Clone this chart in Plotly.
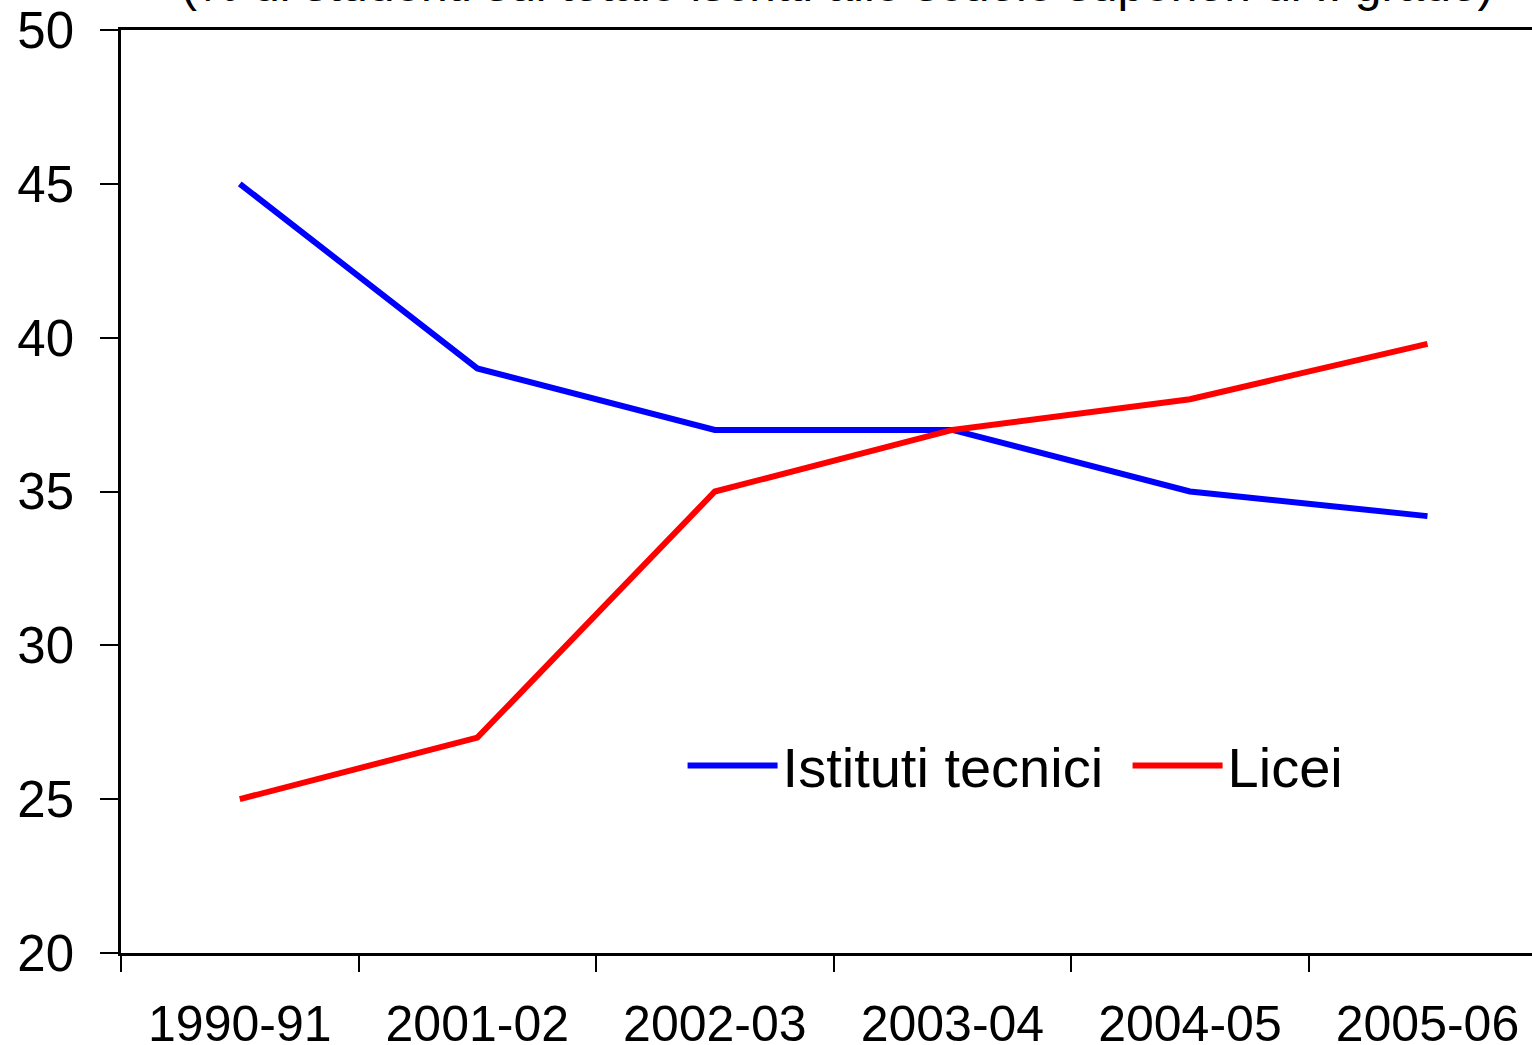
import plotly.graph_objects as go

categories = ["1990-91", "2001-02", "2002-03", "2003-04", "2004-05", "2005-06"]
istituti_tecnici = [45.0, 39.0, 37.0, 37.0, 35.0, 34.2]
licei = [25.0, 27.0, 35.0, 37.0, 38.0, 39.8]
y_ticks = [20, 25, 30, 35, 40, 45, 50]
title_text = "(% di studenti sul totale iscritti alle scuole superiori di II grado)"

FONT = "Liberation Sans, Arial, sans-serif"

fig = go.Figure()
fig.add_trace(go.Scatter(x=categories, y=istituti_tecnici, mode="lines",
                         name="Istituti tecnici",
                         line=dict(color="#0000FF", width=6)))
fig.add_trace(go.Scatter(x=categories, y=licei, mode="lines",
                         name="Licei",
                         line=dict(color="#FF0000", width=6)))

fig.update_layout(
    width=1532, height=1045,
    margin=dict(l=121, r=0, t=30, b=92, autoexpand=False),
    paper_bgcolor="white", plot_bgcolor="white",
    font=dict(family=FONT, color="black"),
    showlegend=True,
    legend=dict(orientation="h", x=0.398, y=0.203, xanchor="left", yanchor="middle",
                font=dict(size=56, family=FONT, color="black"),
                bgcolor="rgba(0,0,0,0)", itemwidth=90, tracegroupgap=0,
                entrywidth=340, entrywidthmode="pixels"),
    xaxis=dict(type="category", range=[-0.5, 5.44], tickson="boundaries",
               ticks="outside", ticklen=16, tickwidth=2, tickcolor="black",
               showline=True, linecolor="black", linewidth=3, mirror=True,
               showgrid=False, zeroline=False, automargin=False,
               tickfont=dict(size=50, family=FONT, color="black"),
               ticklabelstandoff=25),
    yaxis=dict(range=[20, 50], tickvals=y_ticks, ticks="outside", ticklen=18,
               tickwidth=2, tickcolor="black",
               showline=True, linecolor="black", linewidth=2.5,
               showgrid=False, zeroline=False, automargin=False,
               tickfont=dict(size=51, family=FONT, color="black"),
               ticklabelstandoff=16),
)

fig.add_annotation(text=title_text, xref="paper", yref="paper", x=0.508, y=1,
                   xanchor="center", yanchor="bottom", yshift=17, showarrow=False,
                   font=dict(size=48, family=FONT, color="black"))

fig.write_html("out.html", config={"displayModeBar": False},
               post_script="document.body.style.margin='0';document.body.style.overflow='hidden';")
